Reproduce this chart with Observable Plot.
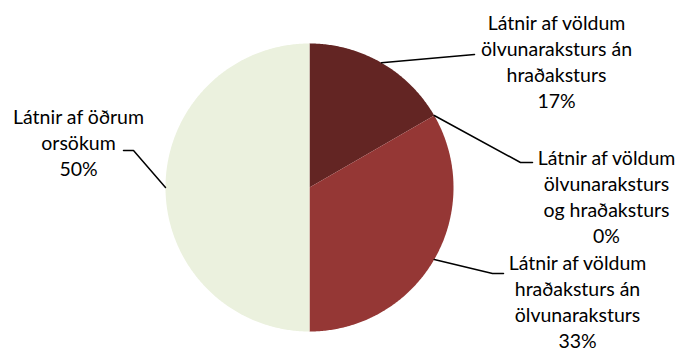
<!DOCTYPE html>
<html><head><meta charset="utf-8">
<script src="https://cdn.jsdelivr.net/npm/d3@7"></script>
<script src="https://cdn.jsdelivr.net/npm/@observablehq/plot@0.6"></script>
<style>body{margin:0;background:#fff}</style>
</head><body><div id="chart"></div>
<script>
// Data
const categories = [
  "Látnir af völdum\nölvunaraksturs án\nhraðaksturs",
  "Látnir af völdum\nölvunaraksturs\nog hraðaksturs",
  "Látnir af völdum\nhraðaksturs án\nölvunaraksturs",
  "Látnir af öðrum\norsökum"
];
const values = [16.67, 0, 33.33, 50];
const pctLabels = ["17%", "0%", "33%", "50%"];
const colors = ["#632523", "#953735", "#953735", "#EBF1DE"];

// Layout (pixels)
const W = 678, H = 353, CX = 309, CY = 187, R = 144;
const labelPos = [[556, 60], [606, 195], [577, 300], [78, 141]];
const elbows = [[[474, 54]], [[520, 162], [532, 162]], [[492, 273], [503, 273]], [[133, 150], [123, 150]]];

const toX = px => (px - CX) / R, toY = py => (CY - py) / R;
const arcs = d3.pie().sort(null).value(d => d)(values);

const polys = [];
arcs.forEach((a, i) => {
  if (a.endAngle - a.startAngle <= 0) return;
  polys.push({k: i, x: 0, y: 0});
  const n = Math.max(2, Math.ceil((a.endAngle - a.startAngle) / 0.01));
  for (let j = 0; j <= n; j++) {
    const t = a.startAngle + (a.endAngle - a.startAngle) * j / n;
    polys.push({k: i, x: Math.sin(t), y: Math.cos(t)});
  }
});

const leaders = [];
arcs.forEach((a, i) => {
  const m = (a.startAngle + a.endAngle) / 2;
  leaders.push({k: i, x: Math.sin(m), y: Math.cos(m)});
  elbows[i].forEach(p => leaders.push({k: i, x: toX(p[0]), y: toY(p[1])}));
});

const labels = categories.map((c, i) => ({
  text: c + "\n" + pctLabels[i], x: toX(labelPos[i][0]), y: toY(labelPos[i][1])
}));

const chart = Plot.plot({
  width: W, height: H,
  margin: 0,
  x: {domain: [toX(0), toX(W)], range: [0, W], axis: null},
  y: {domain: [toY(H), toY(0)], range: [H, 0], axis: null},
  color: {domain: d3.range(categories.length), range: colors},
  style: {fontFamily: "Lato, sans-serif", background: "#fff"},
  marks: [
    Plot.line(polys, {x: "x", y: "y", z: "k", fill: "k", stroke: "none", curve: "linear-closed"}),
    Plot.line(leaders, {x: "x", y: "y", z: "k", stroke: "#000", strokeWidth: 1.5}),
    Plot.text(labels, {x: "x", y: "y", text: "text", textAnchor: "middle", lineHeight: 1.33,
      fontSize: 19.5, fill: "#000"})
  ]
});
document.getElementById("chart").appendChild(chart);
</script>
</body></html>
